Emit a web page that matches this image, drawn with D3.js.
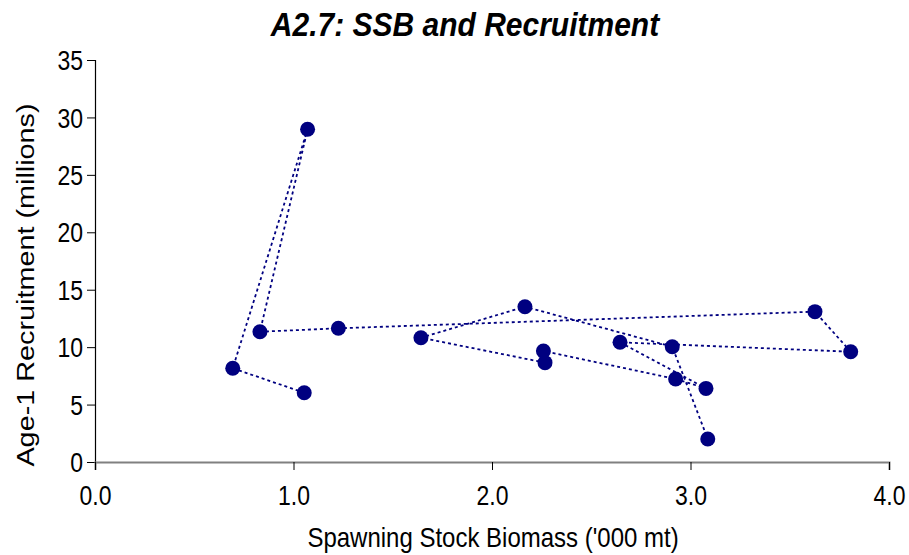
<!DOCTYPE html>
<html><head><meta charset="utf-8">
<script src="https://cdn.jsdelivr.net/npm/d3@7"></script>
<style>body{margin:0;background:#fff}svg{display:block}text{font-family:"Liberation Sans",Arial,sans-serif}</style>
</head><body>
<svg id="c" width="909" height="555"></svg>
<script>
// Data in plotting (chronological line) order
const ssb = [1.054, 0.694, 1.071, 0.831, 1.226, 3.627, 3.807, 2.645, 3.078, 2.925, 2.259, 2.267, 1.642, 2.166, 2.908, 3.087];
const recruits = [6.03, 8.16, 28.97, 11.34, 11.64, 13.09, 9.60, 10.42, 6.41, 7.23, 9.66, 8.65, 10.82, 13.52, 10.04, 2.0];
const xTicks = [0, 1, 2, 3, 4];
const yTicks = [0, 5, 10, 15, 20, 25, 30, 35];
const title = "A2.7: SSB and Recruitment";
const xTitle = "Spawning Stock Biomass ('000 mt)";
const yTitle = "Age-1 Recruitment (millions)";

const data = ssb.map((d, i) => ({x: d, y: recruits[i]}));
const svg = d3.select("#c");
const L = 95, R = 889, T = 60, B = 462;
const SY = 1.17; // vertical stretch of the text in the reference
const x = d3.scaleLinear().domain([0, 4]).range([L, R]);
const y = d3.scaleLinear().domain([0, 35]).range([B, T]);
const navy = "#000080";

// title
svg.append("text").attr("transform", `translate(465,36) scale(1,1.12)`).attr("text-anchor", "middle")
  .attr("font-size", 30).attr("font-weight", "bold").attr("font-style", "italic")
  .text(title);

// y axis
const ya = svg.append("g").attr("transform", `translate(${L},0)`)
  .call(d3.axisLeft(y).tickValues(yTicks).tickSize(8).tickPadding(6).tickFormat(d3.format("d")));
ya.select(".domain").attr("stroke", "#000").attr("stroke-width", 1.2);
ya.selectAll(".tick line").attr("stroke", "#000");
ya.selectAll("text").attr("font-size", 23).attr("font-family", "Liberation Sans, Arial, sans-serif").attr("fill", "#000")
  .attr("x", -12).attr("y", 0).attr("dy", "0.36em").attr("transform", `scale(1,${SY})`);

// x axis
const xa = svg.append("g").attr("transform", `translate(0,${B})`)
  .call(d3.axisBottom(x).tickValues(xTicks).tickSize(8).tickPadding(12).tickFormat(d3.format(".1f")));
xa.select(".domain").attr("stroke", "#808080").attr("stroke-width", 2);
xa.selectAll(".tick line").attr("stroke", "#000");
xa.selectAll("text").attr("font-size", 23).attr("font-family", "Liberation Sans, Arial, sans-serif").attr("fill", "#000")
  .attr("y", 43 / SY).attr("dy", 0).attr("transform", `scale(1,${SY})`);

// axis titles
svg.append("text").attr("transform", `translate(493,547) scale(1,${SY})`).attr("text-anchor", "middle")
  .attr("font-size", 24).text(xTitle);
svg.append("text").attr("transform", `translate(34,285) scale(1,1.2) rotate(-90)`).attr("text-anchor", "middle")
  .attr("font-size", 24).text(yTitle);

// line
const line = d3.line().x(d => x(d.x)).y(d => y(d.y));
svg.append("path").datum(data).attr("d", line).attr("fill", "none")
  .attr("stroke", navy).attr("stroke-width", 1.8).attr("stroke-dasharray", "3,3");

// markers
svg.append("g").selectAll("circle").data(data).join("circle")
  .attr("cx", d => x(d.x)).attr("cy", d => y(d.y)).attr("r", 7.5).attr("fill", navy);
</script>
</body></html>
